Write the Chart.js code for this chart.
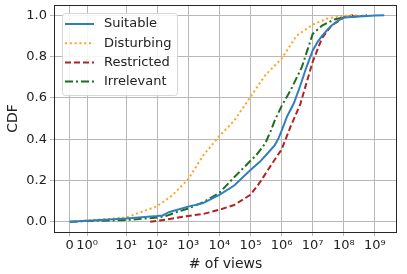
<!DOCTYPE html>
<html>
<head>
<meta charset="utf-8">
<script src="https://cdn.jsdelivr.net/npm/chart.js@4"></script>
<style>
  html, body { margin: 0; padding: 0; background: #fff; }
  #wrap { width: 407px; height: 274px; }
</style>
</head>
<body>
<div id="wrap"><canvas id="cdf"></canvas></div>
<script>
// views (x) and CDF (y)
const suitableViews = [0, 1, 10, 100, 150, 250, 1000, 3000, 1e4, 3e4, 1e5, 2e5, 4e5, 6e5, 8e5, 1e6, 1.5e6, 2.5e6, 4e6, 6e6, 1e7, 1.5e7, 2e7, 3e7, 4e7, 6e7, 1e8, 1e9, 2e9];
const suitableCdf   = [0, 0.005, 0.015, 0.027, 0.03, 0.047, 0.073, 0.09, 0.13, 0.175, 0.25, 0.29, 0.34, 0.37, 0.405, 0.44, 0.51, 0.575, 0.66, 0.74, 0.83, 0.875, 0.9, 0.93, 0.95, 0.97, 0.99, 0.999, 1.0];

const disturbingViews = [0, 1, 10, 100, 300, 1000, 3000, 1e4, 3e4, 1e5, 3e5, 1e6, 3e6, 1e7, 3e7, 1e8, 3e8];
const disturbingCdf   = [0, 0.006, 0.02, 0.075, 0.126, 0.206, 0.32, 0.415, 0.49, 0.605, 0.71, 0.79, 0.9, 0.955, 0.985, 0.998, 1.0];

const restrictedViews = [60, 100, 250, 1000, 3000, 1e4, 3e4, 1e5, 2e5, 4e5, 1e6, 2e6, 4e6, 1e7, 2e7, 4e7, 1e8, 2e8];
const restrictedCdf   = [0, 0.004, 0.013, 0.028, 0.037, 0.058, 0.081, 0.13, 0.19, 0.26, 0.35, 0.465, 0.57, 0.775, 0.89, 0.95, 0.99, 1.0];

const irrelevantViews = [0, 1, 10, 100, 200, 400, 1000, 3000, 1e4, 3e4, 1e5, 1.5e5, 3e5, 4.5e5, 6e5, 1e6, 2e6, 4.5e6, 1e7, 2e7, 5e7, 1e8, 5.6e8];
const irrelevantCdf   = [0, 0.003, 0.008, 0.02, 0.028, 0.045, 0.064, 0.094, 0.14, 0.215, 0.295, 0.32, 0.38, 0.44, 0.49, 0.56, 0.64, 0.75, 0.91, 0.95, 0.98, 0.99, 1.0];

const xTickValues = [0, 1, 10, 1e2, 1e3, 1e4, 1e5, 1e6, 1e7, 1e8, 1e9];
const xTickLabels = ['0', '10\u2070', '10\u00b9', '10\u00b2', '10\u00b3', '10\u2074', '10\u2075', '10\u2076', '10\u2077', '10\u2078', '10\u2079'];
const yTickValues = [0, 0.2, 0.4, 0.6, 0.8, 1.0];

// the x axis of the original is a stretched symlog: 0..1 linear, then decades
function toAxis(v) {
  if (v <= 1) return 0.557 * v;
  if (v <= 10) return 0.557 + 1.253 * Math.log10(v);
  return 0.81 + Math.log10(v);
}

function points(xs, ys) {
  return xs.map((v, i) => ({ x: toAxis(v), y: ys[i] }));
}

Chart.defaults.font.family = 'DejaVu Sans';
Chart.defaults.font.size = 13;
Chart.defaults.color = '#222';

const frame = {
  id: 'frame',
  afterDraw(chart) {
    const { ctx, chartArea: a } = chart;
    ctx.save();
    ctx.strokeStyle = '#262626';
    ctx.lineWidth = 1;
    ctx.strokeRect(Math.round(a.left) + 0.5, Math.round(a.top) + 0.5,
      Math.round(a.right - a.left) - 1, Math.round(a.bottom - a.top));
    ctx.restore();
  }
};

const boxLegend = {
  id: 'boxLegend',
  afterDatasetsDraw(chart) {
    const ctx = chart.ctx;
    const x0 = 62, y0 = 13, w = 115, h = 82;
    ctx.save();
    ctx.beginPath();
    ctx.roundRect(x0 + 0.5, y0 + 0.5, w, h, 3);
    ctx.fillStyle = 'rgba(255,255,255,0.85)';
    ctx.fill();
    ctx.strokeStyle = '#d6d6d6';
    ctx.lineWidth = 1;
    ctx.stroke();
    chart.data.datasets.forEach((ds, i) => {
      const y = 24 + i * 19.2;
      ctx.beginPath();
      ctx.setLineDash(ds.borderDash || []);
      ctx.strokeStyle = ds.borderColor;
      ctx.lineWidth = ds.borderWidth;
      ctx.moveTo(65, y);
      ctx.lineTo(94, y);
      ctx.stroke();
      ctx.setLineDash([]);
      ctx.fillStyle = '#222';
      ctx.font = '13px "DejaVu Sans"';
      ctx.textBaseline = 'middle';
      ctx.fillText(ds.label, 104, y);
    });
    ctx.restore();
  }
};

new Chart(document.getElementById('cdf'), {
  type: 'line',
  data: {
    datasets: [
      { label: 'Suitable', data: points(suitableViews, suitableCdf), borderColor: '#2f7fc0', borderWidth: 2 },
      { label: 'Disturbing', data: points(disturbingViews, disturbingCdf), borderColor: '#ffa31a', borderWidth: 2, borderDash: [2, 2.8] },
      { label: 'Restricted', data: points(restrictedViews, restrictedCdf), borderColor: '#b22222', borderWidth: 2, borderDash: [6, 3] },
      { label: 'Irrelevant', data: points(irrelevantViews, irrelevantCdf), borderColor: '#1c6e1c', borderWidth: 2, borderDash: [8, 3, 2, 3] }
    ]
  },
  options: {
    responsive: true,
    maintainAspectRatio: false,
    animation: false,
    layout: { padding: { top: 5, right: 10, left: 0, bottom: 0 } },
    elements: { point: { radius: 0 }, line: { tension: 0 } },
    plugins: { legend: { display: false }, tooltip: { enabled: false } },
    scales: {
      x: {
        type: 'linear',
        min: -0.505,
        max: 10.52,
        afterFit: s => { s.height = 42; s.paddingLeft = 0; s.paddingRight = 0; },
        afterBuildTicks: s => { s.ticks = xTickValues.map(v => ({ value: toAxis(v) })); },
        ticks: {
          autoSkip: false,
          maxRotation: 0,
          padding: 2,
          callback: (val, i) => xTickLabels[i]
        },
        grid: { color: '#b8b8b8', lineWidth: 1, tickLength: 4 },
        border: { display: false },
        title: { display: true, text: '# of views', font: { size: 14 }, padding: { top: 0, bottom: 1 } }
      },
      y: {
        min: -0.05,
        max: 1.05,
        afterFit: s => { s.width = 54; s.paddingTop = 0; s.paddingBottom = 0; },
        afterBuildTicks: s => { s.ticks = yTickValues.map(v => ({ value: v })); },
        ticks: { padding: 3, callback: v => v.toFixed(1) },
        grid: { color: '#b8b8b8', lineWidth: 1, tickLength: 4 },
        border: { display: false },
        title: { display: true, text: 'CDF', font: { size: 14 }, padding: { top: 5, bottom: 0 } }
      }
    }
  },
  plugins: [frame, boxLegend]
});
</script>
</body>
</html>
